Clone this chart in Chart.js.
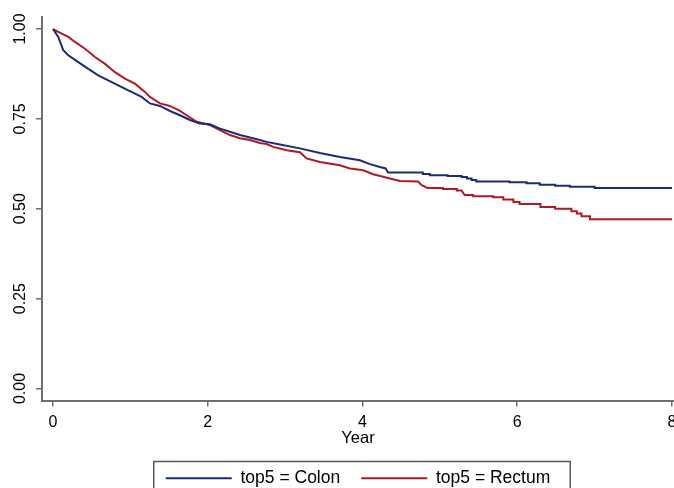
<!DOCTYPE html>
<html>
<head>
<meta charset="utf-8">
<script src="https://cdn.jsdelivr.net/npm/chart.js@4/dist/chart.umd.min.js"></script>
<style>
html,body{margin:0;padding:0;background:#fff;overflow:hidden}
</style>
</head>
<body>
<canvas id="km" width="674" height="488"></canvas>
<script>
// survival curves (time in years, survival prob.)
var colonTime = [0,0.068,0.133,0.198,0.327,0.456,0.585,0.714,0.844,0.973,1.146,1.253,1.382,1.512,1.641,1.770,1.899,2.028,2.158,2.287,2.416,2.545,2.674,2.761,2.933,3.191,3.450,3.708,3.966,4.096,4.225,4.30,4.33,4.78,4.78,4.87,4.87,5.10,5.10,5.28,5.28,5.35,5.35,5.41,5.41,5.47,5.47,5.90,5.90,6.12,6.12,6.29,6.29,6.49,6.49,6.68,6.68,7.00,7.00,8.00];
var colonSurv = [1,0.978,0.941,0.927,0.908,0.889,0.871,0.857,0.843,0.829,0.811,0.793,0.786,0.772,0.760,0.747,0.737,0.735,0.723,0.714,0.705,0.698,0.691,0.686,0.679,0.668,0.655,0.644,0.635,0.624,0.616,0.612,0.601,0.601,0.597,0.597,0.593,0.593,0.591,0.591,0.588,0.588,0.584,0.584,0.580,0.580,0.576,0.576,0.574,0.574,0.571,0.571,0.567,0.567,0.564,0.564,0.561,0.561,0.558,0.558];
var rectumTime = [0,0.112,0.198,0.284,0.413,0.543,0.672,0.801,0.930,1.059,1.189,1.253,1.382,1.512,1.641,1.727,1.857,2.028,2.158,2.287,2.416,2.545,2.674,2.761,2.846,3.019,3.191,3.278,3.450,3.708,3.837,4.009,4.138,4.267,4.354,4.483,4.72,4.76,4.84,5.04,5.04,5.22,5.22,5.28,5.32,5.43,5.43,5.69,5.69,5.82,5.82,5.95,5.95,6.03,6.03,6.30,6.30,6.49,6.49,6.70,6.70,6.77,6.77,6.83,6.83,6.94,6.94,8.00];
var rectumSurv = [1,0.987,0.978,0.964,0.945,0.922,0.903,0.880,0.862,0.848,0.825,0.811,0.793,0.786,0.772,0.760,0.742,0.733,0.719,0.705,0.696,0.691,0.683,0.680,0.672,0.663,0.657,0.640,0.630,0.621,0.612,0.607,0.596,0.589,0.584,0.577,0.576,0.566,0.558,0.558,0.555,0.555,0.551,0.551,0.538,0.538,0.535,0.535,0.532,0.532,0.526,0.526,0.519,0.519,0.513,0.513,0.505,0.505,0.500,0.500,0.493,0.493,0.487,0.487,0.479,0.479,0.471,0.471];
var xTicks = [0,2,4,6,8];
var yTicks = [0,0.25,0.5,0.75,1];
var seriesNames = ['top5 = Colon','top5 = Rectum'];

function pts(t,s){
    var out=[];
    for(var i=0;i<t.length;i++) out.push({x:t[i],y:s[i]});
    return out;
}

var axisGrey='#6f6f6f';
var font='"Liberation Sans", Arial, sans-serif';

// box round the legend, like the stata one
var legendFrame={
    id:'legendFrame',
    afterDraw:function(chart){
        var hb=chart.legend.legendHitBoxes;
        if(!hb||!hb.length) return;
        var first=hb[0], last=hb[hb.length-1];
        var ctx=chart.ctx;
        ctx.save();
        ctx.strokeStyle='#555';
        ctx.lineWidth=1.5;
        var l=first.left-12, r=last.left+last.width+20, t=first.top-8;
        ctx.strokeRect(l,t,r-l,60);
        ctx.restore();
    }
};

new Chart(document.getElementById('km').getContext('2d'),{
    type:'line',
    data:{
        datasets:[
            {label:seriesNames[0],data:pts(colonTime,colonSurv),borderColor:'#1b2b78',backgroundColor:'#1b2b78',borderWidth:2},
            {label:seriesNames[1],data:pts(rectumTime,rectumSurv),borderColor:'#b01a22',backgroundColor:'#b01a22',borderWidth:2}
        ]
    },
    options:{
        responsive:false,
        animation:false,
        devicePixelRatio:1,
        elements:{point:{radius:0},line:{tension:0}},
        layout:{padding:{top:17,left:0,right:0,bottom:-9}},
        plugins:{
            tooltip:{enabled:false},
            legend:{
                position:'bottom',
                fullSize:false,
                labels:{
                    boxWidth:66,
                    boxHeight:0,
                    padding:21,
                    color:'#000',
                    font:{family:font,size:17.5}
                }
            }
        },
        scales:{
            x:{
                type:'linear',
                min:-0.142,
                max:8.026,
                afterBuildTicks:function(s){ s.ticks=xTicks.map(function(v){return {value:v};}); },
                afterFit:function(s){ s.paddingLeft=0; s.paddingRight=0; s.height=48; },
                border:{display:true,color:axisGrey,width:2},
                grid:{drawOnChartArea:false,drawTicks:true,tickLength:6,color:axisGrey,lineWidth:1.5},
                ticks:{color:'#000',padding:6,maxRotation:0,font:{family:font,size:16}},
                title:{display:true,text:'Year',color:'#000',padding:0,font:{family:font,size:16.5}}
            },
            y:{
                min:-0.0334,
                max:1.0334,
                afterBuildTicks:function(s){ s.ticks=yTicks.map(function(v){return {value:v};}); },
                afterFit:function(s){ s.width=42; s.paddingTop=0; s.paddingBottom=0; },
                border:{display:true,color:axisGrey,width:2},
                grid:{drawOnChartArea:false,drawTicks:true,tickLength:6,color:axisGrey,lineWidth:1.5},
                ticks:{
                    color:'#000',padding:0,minRotation:90,maxRotation:90,crossAlign:'center',
                    font:{family:font,size:16},
                    callback:function(v){ return v.toFixed(2); }
                }
            }
        }
    },
    plugins:[legendFrame]
});
</script>
</body>
</html>
